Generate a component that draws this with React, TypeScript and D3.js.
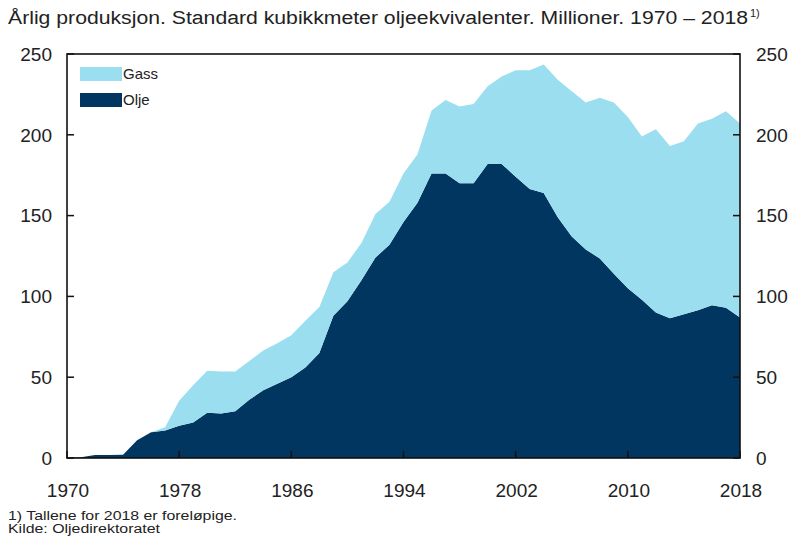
import React from 'react';
import * as d3 from 'd3';

// annual production, mill. Sm3 o.e.
const years = [
  1970, 1971, 1972, 1973, 1974, 1975, 1976, 1977, 1978, 1979,
  1980, 1981, 1982, 1983, 1984, 1985, 1986, 1987, 1988, 1989,
  1990, 1991, 1992, 1993, 1994, 1995, 1996, 1997, 1998, 1999,
  2000, 2001, 2002, 2003, 2004, 2005, 2006, 2007, 2008, 2009,
  2010, 2011, 2012, 2013, 2014, 2015, 2016, 2017, 2018,
];
const olje = [
  0, 0.4, 1.9, 1.9, 2, 11, 16, 17, 20, 22,
  28, 27.5, 29, 36, 42, 46, 50, 56, 65, 88,
  97, 110, 124, 132, 146, 158, 176, 176, 170, 170,
  182, 182, 174, 166.5, 164, 149, 137, 129, 123.5, 114,
  105, 98, 90, 86.5, 89, 91.5, 94.5, 93, 87,
];
const gass = [
  0, 0, 0, 0, 0, 0, 0, 2, 15.5, 23,
  26, 26, 24.5, 24, 24.5, 25, 26, 29, 28.5, 27,
  24, 23, 27, 26.5, 30, 30, 39, 45.5, 47.5, 49,
  48, 54, 66, 73.5, 79.5, 85, 90, 91, 99.5, 106,
  106, 101, 113.5, 106.5, 107, 115.5, 115.5, 121.5, 120,
];
const yTicks = [0, 50, 100, 150, 200, 250];
const xTicks = [1970, 1978, 1986, 1994, 2002, 2010, 2018];

const W = 797, H = 536;
const left = 67, right = 740, top = 54, bottom = 458;
const lightBlue = '#9bdef0';
const darkBlue = '#00365f';
const font = 'Arial, "Liberation Sans", Helvetica, sans-serif';
const narrow = '"Liberation Sans Narrow", "Arial Narrow", Arial, sans-serif';

export default function App() {
  const x = d3.scaleLinear().domain([1970, 2018]).range([left, right]);
  const y = d3.scaleLinear().domain([0, 250]).range([bottom, top]);

  const rows = years.map((yr, i) => ({ year: yr, olje: olje[i], gass: gass[i] }));
  const stack = d3.stack<any>().keys(['olje', 'gass'])(rows);
  const area = d3.area<any>()
    .x((d) => x(d.data.year))
    .y0((d) => y(d[0]))
    .y1((d) => y(d[1]));
  const colors = [darkBlue, lightBlue];

  return (
    <svg width={W} height={H} style={{ position: 'absolute', left: 0, top: 0 }}>
      <rect width={W} height={H} fill="#fff" />
      <text x={8} y={24} fontFamily={narrow} fontSize={18} fill="#222"
        textLength={740} lengthAdjust="spacingAndGlyphs">
        Årlig produksjon. Standard kubikkmeter oljeekvivalenter. Millioner. 1970 – 2018
      </text>
      <text x={750} y={17} fontFamily={narrow} fontSize={11} fill="#222">1)</text>

      {stack.map((s, i) => (
        <path key={s.key} d={area(s) || ''} fill={colors[i]} />
      ))}

      {/* legend */}
      <rect x={80} y={67} width={42} height={14} fill={lightBlue} />
      <text x={123} y={79} fontFamily={font} fontSize={15} fill="#222">Gass</text>
      <rect x={80} y={93} width={42} height={14} fill={darkBlue} />
      <text x={123} y={105} fontFamily={font} fontSize={15} fill="#222">Olje</text>

      {/* ticks */}
      {yTicks.map((t) => (
        <g key={'y' + t}>
          <line x1={left} x2={left + 7} y1={y(t)} y2={y(t)} stroke="#111" strokeWidth={1.5} />
          <line x1={right} x2={right - 7} y1={y(t)} y2={y(t)} stroke="#111" strokeWidth={1.5} />
          <text x={52} y={y(t)} dy="0.36em" textAnchor="end" fontFamily={font} fontSize={19} fill="#222">{t}</text>
          <text x={756} y={y(t)} dy="0.36em" textAnchor="start" fontFamily={font} fontSize={19} fill="#222">{t}</text>
        </g>
      ))}
      {xTicks.map((t) => (
        <g key={'x' + t}>
          <line x1={x(t)} x2={x(t)} y1={bottom} y2={bottom - 7} stroke="#111" strokeWidth={1.5} />
          <text x={x(t) + 1} y={497} textAnchor="middle" fontFamily={font} fontSize={19} fill="#222">{t}</text>
        </g>
      ))}

      <rect x={left} y={top} width={right - left} height={bottom - top} fill="none" stroke="#111" strokeWidth={1.6} />

      <text x={8} y={520} fontFamily={font} fontSize={12} fill="#222"
        textLength={229} lengthAdjust="spacingAndGlyphs">1) Tallene for 2018 er foreløpige.</text>
      <text x={8} y={533} fontFamily={font} fontSize={12} fill="#222"
        textLength={152} lengthAdjust="spacingAndGlyphs">Kilde: Oljedirektoratet</text>
    </svg>
  );
}
